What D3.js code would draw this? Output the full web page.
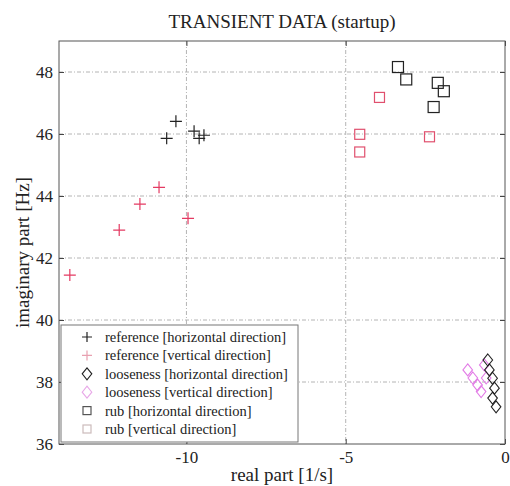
<!DOCTYPE html>
<html>
<head>
<meta charset="utf-8">
<script src="https://cdn.jsdelivr.net/npm/d3@7"></script>
<style>
  html, body { margin: 0; padding: 0; background: #fff; }
  svg { display: block; }
  text { font-family: "Liberation Serif", "Times New Roman", serif; fill: #222; }
</style>
</head>
<body>
<svg id="chart" width="510" height="486"></svg>
<script>
// ---- data ----
const xTicks = [-10, -5, 0];
const yTicks = [36, 38, 40, 42, 44, 46, 48];

const refH_x = [-10.33, -10.62, -9.76, -9.60, -9.45];
const refH_y = [46.41, 45.86, 46.09, 45.86, 45.96];

const refV_x = [-13.66, -12.11, -11.46, -10.86, -9.95];
const refV_y = [41.45, 42.90, 43.74, 44.28, 43.28];

const loosH_x = [-0.54, -0.49, -0.39, -0.33, -0.39, -0.28];
const loosH_y = [38.71, 38.39, 38.12, 37.80, 37.48, 37.20];

const loosV_x = [-1.17, -1.01, -0.86, -0.75, -0.65, -0.59];
const loosV_y = [38.39, 38.13, 37.90, 37.69, 38.55, 38.13];

const rubH_x = [-3.36, -3.10, -2.11, -1.92, -2.24];
const rubH_y = [48.16, 47.76, 47.65, 47.38, 46.87];

const rubV_x = [-3.94, -4.56, -4.56, -2.37];
const rubV_y = [47.18, 45.99, 45.42, 45.91];

const legendLabels = [
  "reference [horizontal direction]",
  "reference [vertical direction]",
  "looseness [horizontal direction]",
  "looseness [vertical direction]",
  "rub [horizontal direction]",
  "rub [vertical direction]"
];

// ---- layout ----
const L = 59, R = 505, T = 41, B = 444;
const svg = d3.select("#chart");
const x = d3.scaleLinear().domain([-14, 0]).range([L, R]);
const y = d3.scaleLinear().domain([36, 49]).range([B, T]);

// grid
const grid = svg.append("g").attr("stroke", "#b4b4b4").attr("stroke-width", 1)
  .attr("stroke-dasharray", "4,2,1,2").attr("fill", "none");
xTicks.filter(v => v > -14 && v < 0).forEach(v => {
  grid.append("line").attr("x1", x(v)).attr("x2", x(v)).attr("y1", T).attr("y2", B);
});
yTicks.filter(v => v > 36 && v < 49).forEach(v => {
  grid.append("line").attr("x1", L).attr("x2", R).attr("y1", y(v)).attr("y2", y(v));
});

// axes (ticks inward, box on)
const fs = 17;
const axB = svg.append("g").attr("transform", `translate(0,${B})`)
  .call(d3.axisBottom(x).tickValues(xTicks).tickSizeInner(-5).tickSizeOuter(0).tickPadding(7).tickFormat(d3.format("d")));
const axT = svg.append("g").attr("transform", `translate(0,${T})`)
  .call(d3.axisTop(x).tickValues(xTicks).tickSizeInner(-5).tickSizeOuter(0).tickFormat(""));
const axL = svg.append("g").attr("transform", `translate(${L},0)`)
  .call(d3.axisLeft(y).tickValues(yTicks).tickSizeInner(-5).tickSizeOuter(0).tickPadding(6));
const axR = svg.append("g").attr("transform", `translate(${R},0)`)
  .call(d3.axisRight(y).tickValues(yTicks).tickSizeInner(-5).tickSizeOuter(0).tickFormat(""));
[axB, axT, axL, axR].forEach(a => {
  a.select(".domain").remove();
  a.selectAll(".tick line").attr("stroke", "#444");
  a.selectAll("text").attr("font-family", "Liberation Serif, serif").attr("font-size", fs).attr("fill", "#222");
});
axB.selectAll("text").text(d => String(d).replace("−", "-"));
axL.selectAll("text").attr("dy", "0.35em");

svg.append("rect").attr("x", L).attr("y", T).attr("width", R - L).attr("height", B - T)
  .attr("fill", "none").attr("stroke", "#555").attr("stroke-width", 1);

// markers
const BLACK = "#222", RED = "#e43a62", PINKSQ = "#e0506e", MAG = "#e27be6";
function plus(g, cx, cy, s, col) {
  g.append("path").attr("d", `M${cx - s},${cy}H${cx + s}M${cx},${cy - s}V${cy + s}`)
    .attr("stroke", col).attr("stroke-width", 1.2).attr("fill", "none");
}
function diamond(g, cx, cy, s, col) {
  g.append("path").attr("d", `M${cx},${cy - s}L${cx + s * 0.8},${cy}L${cx},${cy + s}L${cx - s * 0.8},${cy}Z`)
    .attr("stroke", col).attr("stroke-width", 1.1).attr("fill", "none");
}
function square(g, cx, cy, s, col) {
  g.append("rect").attr("x", cx - s).attr("y", cy - s).attr("width", 2 * s).attr("height", 2 * s)
    .attr("stroke", col).attr("stroke-width", 1.2).attr("fill", "none");
}
const pts = svg.append("g");
loosV_x.forEach((v, i) => diamond(pts, x(v), y(loosV_y[i]), 6, MAG));
loosH_x.forEach((v, i) => diamond(pts, x(v), y(loosH_y[i]), 6, BLACK));
refV_x.forEach((v, i) => plus(pts, x(v), y(refV_y[i]), 6, RED));
refH_x.forEach((v, i) => plus(pts, x(v), y(refH_y[i]), 6, BLACK));
rubV_x.forEach((v, i) => square(pts, x(v), y(rubV_y[i]), 5, PINKSQ));
rubH_x.forEach((v, i) => square(pts, x(v), y(rubH_y[i]), 5.5, BLACK));

// legend
const lg = svg.append("g");
const lx = 61, ly = 325, lw = 237, lh = 117;
lg.append("rect").attr("x", lx).attr("y", ly).attr("width", lw).attr("height", lh)
  .attr("fill", "#fff").attr("stroke", "#777").attr("stroke-width", 1);
const rowY = d3.scaleLinear().domain([0, 5]).range([ly + 12, ly + 104]);
const symX = 87;
plus(lg, symX, rowY(0), 5, BLACK);
plus(lg, symX, rowY(1), 5, "#e8a0b0");
diamond(lg, symX, rowY(2), 6, BLACK);
diamond(lg, symX, rowY(3), 6, "#e8a8e8");
square(lg, symX, rowY(4), 4, "#555");
square(lg, symX, rowY(5), 4, "#ccbbbb");
legendLabels.forEach((t, i) => {
  lg.append("text").attr("x", 105).attr("y", rowY(i)).attr("dy", "0.35em")
    .attr("font-size", 14.5).text(t);
});

// titles
svg.append("text").attr("x", (L + R) / 2).attr("y", 28).attr("text-anchor", "middle")
  .attr("font-size", 19).text("TRANSIENT DATA (startup)");
svg.append("text").attr("x", (L + R) / 2).attr("y", 481).attr("text-anchor", "middle")
  .attr("font-size", 19).text("real part [1/s]");
svg.append("text").attr("transform", `translate(29,${(T + B) / 2 + 10}) rotate(-90)`)
  .attr("text-anchor", "middle").attr("font-size", 19).text("imaginary part [Hz]");
</script>
</body>
</html>
